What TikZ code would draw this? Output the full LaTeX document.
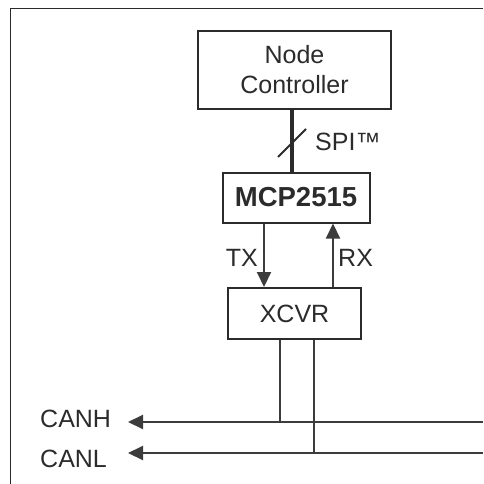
\documentclass[tikz,border=0pt]{standalone}
\usepackage{fontspec}
\setmainfont{Liberation Sans}
\usetikzlibrary{arrows.meta}
\definecolor{ink}{HTML}{2B2B2B}
\definecolor{wire}{HTML}{3C3C3C}
\begin{document}
\begin{tikzpicture}[x=1pt,y=-1pt,
  box/.style={draw=ink,line width=2pt,inner sep=0pt,text=ink,align=center,
    font=\fontsize{25}{30}\selectfont},
  lbl/.style={inner sep=0pt,text=ink,font=\fontsize{25}{30}\selectfont},
  wireline/.style={draw=wire,line width=2pt},
  tip/.style={-{Triangle[length=15pt,width=14pt]}}]
\useasboundingbox (0,0) rectangle (483,484);
% frame
\draw[draw=ink,line width=1.5pt] (483,8.5) -- (10.5,8.5) -- (10.5,484);
% nodes
\node[box,minimum width=193pt,minimum height=78pt] (nc) at (294.5,70) {Node\\Controller};
\node[box,minimum width=147pt,minimum height=50pt,font=\bfseries\fontsize{27.5}{30}\selectfont] (mcp) at (296,197.5) {MCP2515};
\node[box,minimum width=133pt,minimum height=51pt] (xcvr) at (294.5,313.5) {XCVR};
% helper coordinates
\coordinate (spix) at (292,0);
\coordinate (txx) at (264,0);
\coordinate (rxx) at (333,0);
\coordinate (hx) at (280,0);
\coordinate (lx) at (314,0);
\coordinate (hl) at (128,422);
\coordinate (hr) at (483,422);
\coordinate (ll) at (128,453);
\coordinate (lr) at (483,453);
\coordinate (s1) at (278,157);
\coordinate (s2) at (306,129);
% SPI bus
\draw[draw=ink,line width=3.5pt] (nc.south -| spix) -- (mcp.north -| spix);
\draw[draw=ink,line width=2pt] (s1) -- (s2);
\node[lbl,anchor=base west] (spi) at (315,150) {SPI™};
% TX / RX
\draw[wireline,tip] (mcp.south -| txx) -- (xcvr.north -| txx);
\draw[wireline,tip] (xcvr.north -| rxx) -- (mcp.south -| rxx);
\node[lbl,anchor=base east] (tx) at (258,266) {TX};
\node[lbl,anchor=base west] (rx) at (338,266) {RX};
% CAN bus
\draw[wireline,tip] (hr) -- (hl);
\draw[wireline,tip] (lr) -- (ll);
\draw[wireline] (xcvr.south -| hx) -- (hr -| hx);
\draw[wireline] (xcvr.south -| lx) -- (lr -| lx);
\node[lbl,anchor=base west] (canh) at (40,427) {CANH};
\node[lbl,anchor=base west] (canl) at (40,467) {CANL};
\end{tikzpicture}
\end{document}
